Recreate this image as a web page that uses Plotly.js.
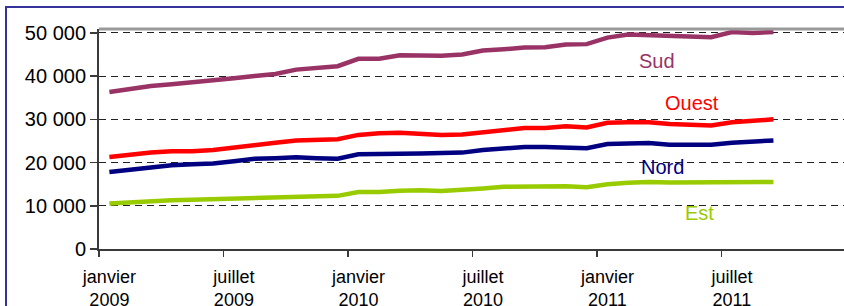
<!DOCTYPE html>
<html>
<head>
<meta charset="utf-8">
<script src="https://cdn.plot.ly/plotly-3.0.1.min.js"></script>
<style>
  html, body { margin: 0; padding: 0; background: #fff; overflow: hidden; }
  #frame { position: absolute; left: 5px; top: 6px; width: 900px; height: 400px;
           border: 2px solid #333399; box-sizing: border-box; }
  #chart { position: absolute; left: 0; top: 0; width: 844px; height: 306px; }
</style>
</head>
<body>
<div id="frame"></div>
<div id="chart"></div>
<script>
// Months: janvier 2009 .. septembre 2011
const months = [
  "2009-01","2009-02","2009-03","2009-04","2009-05","2009-06","2009-07","2009-08","2009-09","2009-10","2009-11","2009-12",
  "2010-01","2010-02","2010-03","2010-04","2010-05","2010-06","2010-07","2010-08","2010-09","2010-10","2010-11","2010-12",
  "2011-01","2011-02","2011-03","2011-04","2011-05","2011-06","2011-07","2011-08","2011-09"
];
const sud   = [36300,37000,37700,38100,38500,38900,39500,40000,40500,41500,42000,42300,
               44000,44000,44800,44700,44700,45000,45900,46200,46600,46700,47300,47400,
               48900,49600,49500,49300,49300,49000,50200,50000,50200];
const ouest = [21300,21900,22300,22600,22600,22900,23500,24200,24600,25100,25300,25400,
               26400,26800,26900,26700,26400,26500,27000,27500,28000,28000,28400,28100,
               29200,29300,29300,28900,28800,28600,29300,29700,30000];
const nord  = [17800,18300,18900,19400,19600,19800,20300,20900,21000,21200,21000,20900,
               21900,21900,22000,22100,22200,22300,22900,23300,23600,23600,23500,23300,
               24300,24400,24500,24100,24100,24100,24600,24900,25100];
const est   = [10500,10800,11000,11300,11400,11500,11600,11800,11900,12000,12100,12300,
               13200,13200,13500,13600,13400,13600,14000,14400,14500,14500,14500,14300,
               15000,15300,15500,15400,15400,15300,15500,15500,15500];
const tickMonths = ["2009-01","2009-07","2010-01","2010-07","2011-01","2011-07"];
const tickLabels = ["janvier<br>2009","juillet<br>2009","janvier<br>2010","juillet<br>2010","janvier<br>2011","juillet<br>2011"];
const seriesNames = ["Sud","Ouest","Nord","Est"];
const seriesColors = ["#993366","#ff0000","#000080","#99cc00"];

const values = [sud, ouest, nord, est];
const traces = values.map((v, k) => ({
  x: months, y: v, type: "scatter", mode: "lines", name: seriesNames[k],
  line: {color: seriesColors[k], width: 4.5}, hoverinfo: "skip"
}));
// boundary tick marks on a companion axis
traces.push({x: [-0.5], y: [0], xaxis: "x2", yaxis: "y", mode: "markers",
  marker: {opacity: 0}, showlegend: false, hoverinfo: "skip"});

const xr = [-0.5, 35.4];
const boundaries = [-0.5, 5.5, 11.5, 17.5, 23.5, 29.5, 35.5];
const labelPos = [[26.39, 43500],[28.08, 33780],[26.63, 18970],[28.46, 8330]];

const layout = {
  width: 844, height: 306,
  margin: {l: 99, r: 0, t: 29, b: 57},
  paper_bgcolor: "rgba(0,0,0,0)", plot_bgcolor: "#ffffff",
  showlegend: false,
  separators: ", ",
  font: {family: "Liberation Sans, Arial, sans-serif", color: "#000"},
  xaxis: {
    type: "category", range: xr, categoryorder: "array", categoryarray: months,
    tickvals: tickMonths, ticktext: tickLabels, ticks: "",
    showgrid: false, zeroline: false,
    showline: true, linecolor: "#3a3a3a", linewidth: 2,
    tickfont: {size: 18, color: "#000"}, ticklabelstandoff: 10
  },
  xaxis2: {
    overlaying: "x", anchor: "y", side: "bottom", type: "linear", range: xr,
    tickvals: boundaries, showticklabels: false, ticks: "outside",
    ticklen: 7, tickwidth: 1.5, tickcolor: "#3a3a3a",
    showgrid: false, zeroline: false, showline: false
  },
  yaxis: {
    range: [0, 50900], tickvals: [0,10000,20000,30000,40000,50000],
    tickformat: ",.0f", ticks: "outside", ticklen: 7, tickwidth: 1.5, tickcolor: "#3a3a3a",
    showline: true, linecolor: "#3a3a3a", linewidth: 2,
    showgrid: true, gridcolor: "#222", gridwidth: 1, griddash: "7px,5px",
    zeroline: false,
    tickfont: {size: 20, color: "#000"}
  },
  shapes: [
    {type: "line", xref: "paper", yref: "paper", x0: 0, x1: 1, y0: 1, y1: 1,
     line: {color: "#999999", width: 3}}
  ],
  annotations: seriesNames.map((n, k) => ({
    x: labelPos[k][0], y: labelPos[k][1], xref: "x2", yref: "y",
    text: n, showarrow: false, font: {size: 20, color: seriesColors[k]}
  }))
};

Plotly.newPlot("chart", traces, layout, {staticPlot: true, displayModeBar: false});
</script>
</body>
</html>
